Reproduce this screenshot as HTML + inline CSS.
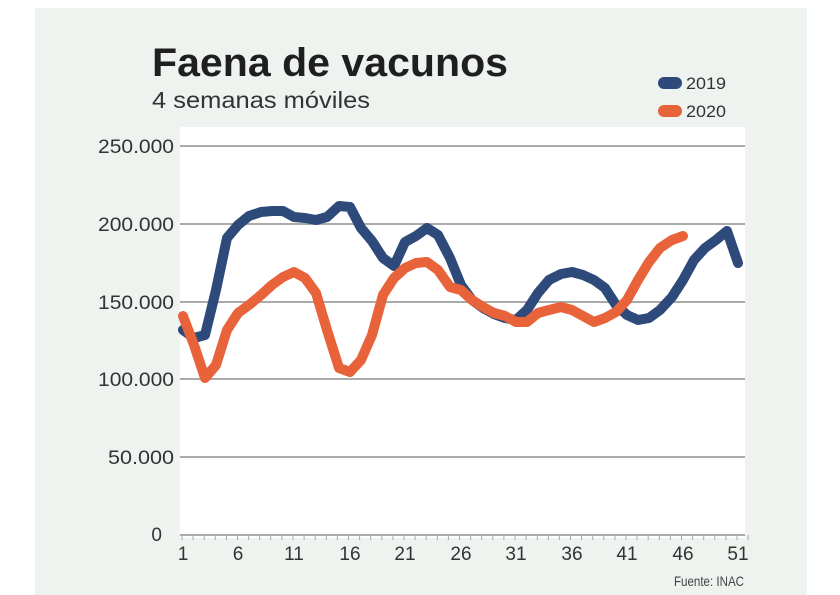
<!DOCTYPE html>
<html><head><meta charset="utf-8"><style>
html,body{margin:0;padding:0;background:#fff;width:840px;height:595px;overflow:hidden}
svg{display:block}
text{font-family:"Liberation Sans",sans-serif}
</style></head><body>
<svg width="840" height="595" viewBox="0 0 840 595">
<rect x="35" y="8" width="772" height="587" fill="#eff3ef"/>
<rect x="180" y="127" width="565" height="411" fill="#fff"/>
<text x="152" y="76" font-size="40" font-weight="bold" fill="#1f1f1f" textLength="356" lengthAdjust="spacingAndGlyphs">Faena de vacunos</text>
<text x="152" y="108" font-size="23" fill="#333" textLength="218" lengthAdjust="spacingAndGlyphs">4 semanas móviles</text>
<rect x="658" y="77" width="24" height="12" rx="6" fill="#2e4a7a"/>
<text x="686" y="89" font-size="17" fill="#333" textLength="40" lengthAdjust="spacingAndGlyphs">2019</text>
<rect x="658" y="105" width="24" height="12" rx="6" fill="#e8623a"/>
<text x="686" y="117" font-size="17" fill="#333" textLength="40" lengthAdjust="spacingAndGlyphs">2020</text>
<g stroke="#aaa" stroke-width="2">
<line x1="180" y1="146" x2="745" y2="146"/><line x1="180" y1="224" x2="745" y2="224"/>
<line x1="180" y1="302" x2="745" y2="302"/><line x1="180" y1="379" x2="745" y2="379"/>
<line x1="180" y1="457" x2="745" y2="457"/><line x1="180" y1="535" x2="745" y2="535"/>
</g>
<g font-size="19" fill="#333" text-anchor="end">
<text x="174" y="153" textLength="76" lengthAdjust="spacingAndGlyphs">250.000</text>
<text x="174" y="231" textLength="76" lengthAdjust="spacingAndGlyphs">200.000</text>
<text x="174" y="309" textLength="76" lengthAdjust="spacingAndGlyphs">150.000</text>
<text x="174" y="386" textLength="76" lengthAdjust="spacingAndGlyphs">100.000</text>
<text x="174" y="464" textLength="66" lengthAdjust="spacingAndGlyphs">50.000</text>
<text x="162" y="541">0</text>
</g>
<g id="ticks" stroke="#aaa" stroke-width="1"></g>
<g font-size="19" fill="#333" text-anchor="middle">
<text x="183" y="560">1</text><text x="238" y="560">6</text><text x="294" y="560">11</text><text x="350" y="560">16</text><text x="405" y="560">21</text><text x="461" y="560">26</text><text x="516" y="560">31</text><text x="572" y="560">36</text><text x="627" y="560">41</text><text x="683" y="560">46</text><text x="738" y="560">51</text>
</g>
<text x="744" y="586" font-size="14" fill="#444" text-anchor="end" textLength="70" lengthAdjust="spacingAndGlyphs">Fuente: INAC</text>
<polyline fill="none" stroke="#2e4a7a" stroke-width="10" stroke-linejoin="round" stroke-linecap="round" points="183,330 194,338 205,335 216,290 227,238 238,225 249,216 261,212 272,211 283,211 294,217 305,218 316,220 327,217 339,206 350,207 361,228 372,241 383,258 394,266 405,242 416,236 427,228 438,235 450,258 461,285 472,300 483,308 494,314 505,318 516,320 527,310 538,293 549,280 561,274 572,272 583,275 594,280 605,288 616,305 627,315 638,320 649,318 660,310 672,297 683,280 694,260 705,248 716,240 727,231 738,263"/>
<polyline fill="none" stroke="#e8623a" stroke-width="10" stroke-linejoin="round" stroke-linecap="round" points="183,316 194,345 205,378 216,365 227,330 238,313 249,305 261,295 272,285 283,277 294,272 305,278 316,293 327,330 339,368 350,372 361,360 372,335 383,295 394,278 405,268 416,263 427,262 438,270 450,287 461,290 472,300 483,307 494,313 505,316 516,322 527,322 538,313 549,310 561,307 572,310 583,316 594,322 605,318 616,312 627,300 638,280 649,262 660,248 672,240 683,236"/>
</svg>
<script>
var g=document.getElementById('ticks'),s='';
for(var i=0;i<=51;i++){var x=182+i*11.1;s+='<line x1="'+x+'" y1="535" x2="'+x+'" y2="540"/>';}
g.innerHTML=s;
</script>
</body></html>
